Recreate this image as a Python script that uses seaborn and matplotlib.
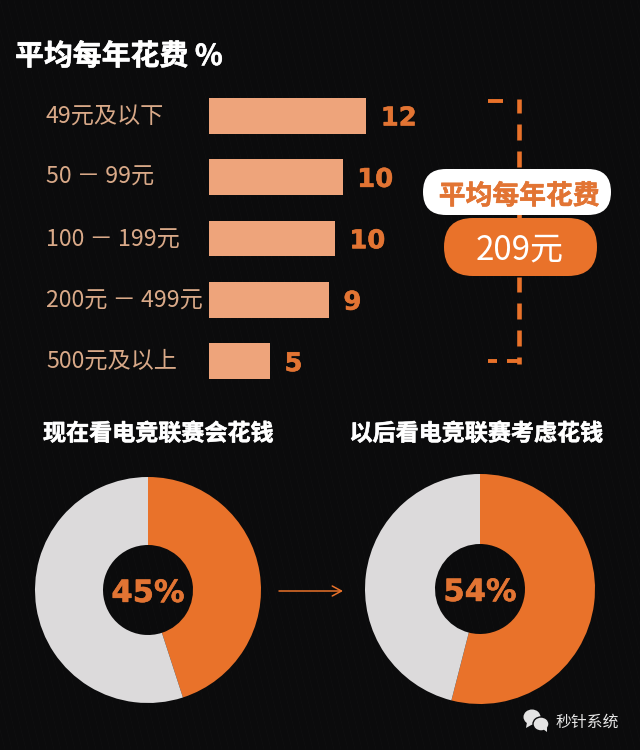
import numpy as np
import pandas as pd
import matplotlib
matplotlib.use("Agg")
import matplotlib.pyplot as plt
import matplotlib.patheffects as pe
import seaborn as sns
from matplotlib.patches import FancyBboxPatch, Ellipse, Polygon

# -----------------------------
# Data
# -----------------------------
title = "平均每年花费 %"
price_bands = ["49元及以下", "50 － 99元", "100 － 199元", "200元 － 499元", "500元及以上"]
bar_lengths = [12.0, 10.2, 9.6, 9.15, 4.65]
bar_labels = ["12", "10", "10", "9", "5"]
avg_label = "平均每年花费"
avg_value = "209元"
donut_titles = ["现在看电竞联赛会花钱", "以后看电竞联赛考虑花钱"]
donut_shares = [45, 54]
brand = "秒针系统"

# -----------------------------
# Style
# -----------------------------
BG = "#0b0b0c"
ORANGE = "#e9722a"
TEXT_ORANGE = "#e27433"
PEACH = "#eea47b"
LABEL = "#d9a988"
GREY = "#dcdadb"
W, H = 640, 750

sns.set_theme(style="dark")
plt.rcParams["font.family"] = ["Noto Sans CJK SC", "DejaVu Sans"]
plt.rcParams["axes.unicode_minus"] = False

fig = plt.figure(figsize=(W / 100, H / 100), dpi=100, facecolor=BG)

# overlay in pixel coordinates for text and decoration
bg = fig.add_axes([0, 0, 1, 1], zorder=0)
bg.set_xlim(0, W)
bg.set_ylim(H, 0)
bg.axis("off")

# faint diagonal texture of the background
for x0 in range(-100, 900, 7):
    bg.plot([x0, x0 - 180], [750, 0], color="#ffffff", lw=0.5, alpha=0.02, zorder=0)

heavy = [pe.withStroke(linewidth=0.4, foreground=TEXT_ORANGE)]
white_heavy = [pe.withStroke(linewidth=0.4, foreground="white")]

# -----------------------------
# Bars
# -----------------------------
def axes_px(x0, y0, x1, y1, zorder=2):
    return fig.add_axes([x0 / W, 1 - y1 / H, (x1 - x0) / W, (y1 - y0) / H], zorder=zorder)

ax = axes_px(209, 85, 209 + 13.1 * 14, 392)
df = pd.DataFrame({"band": price_bands, "value": bar_lengths})
sns.barplot(data=df, y="band", x="value", color=PEACH, saturation=1, width=0.58,
            linewidth=0, edgecolor="none", ax=ax)
ax.set_xlim(0, 14)
ax.axis("off")
for p, lab in zip(ax.patches, bar_labels):
    ax.annotate(lab, (p.get_width(), p.get_y() + p.get_height() / 2), xytext=(10.5, -2),
                textcoords="offset points", va="center", ha="left", color=TEXT_ORANGE,
                fontsize=18.6, fontweight="bold", family="DejaVu Sans", annotation_clip=False,
                path_effects=heavy)

band_y = [116, 177, 240, 301, 361]
for y, band in zip(band_y, price_bands):
    bg.text(46, y, band, color=LABEL, fontsize=16.7, va="center", ha="left", zorder=3)

bg.text(15, 56, title, color="white", fontsize=20.8, fontweight="bold", va="center", ha="left",
        zorder=3, path_effects=white_heavy)

# -----------------------------
# Dashed bracket and pills
# -----------------------------
for y0, y1 in [(99, 113), (124, 140), (151, 167), (178, 230), (277, 292), (303, 319), (330, 346), (357, 364)]:
    bg.plot([518.5, 518.5], [y0, y1], color=ORANGE, lw=3.3, solid_capstyle="butt", zorder=1)
for x0, x1 in [(488, 503), (488, 497), (507, 521)]:
    y = 101 if x0 == 488 and x1 == 503 else 361
    bg.plot([x0, x1], [y, y], color=ORANGE, lw=2.8, solid_capstyle="butt", zorder=1)

white_pill = FancyBboxPatch((423, 169), 188, 46, boxstyle="round,pad=0,rounding_size=23",
                            fc="white", ec="none", zorder=3)
orange_pill = FancyBboxPatch((444, 218), 153, 58, boxstyle="round,pad=0,rounding_size=29",
                             fc=ORANGE, ec="none", zorder=3)
bg.add_patch(white_pill)
bg.add_patch(orange_pill)
bg.text(519, 196, avg_label, color=TEXT_ORANGE, fontsize=19.3, fontweight="bold", ha="center", va="center",
        zorder=4, path_effects=heavy)
bg.text(520, 250, avg_value, color="white", fontsize=23.8, ha="center", va="center", zorder=4)

# -----------------------------
# Donuts
# -----------------------------
centers = [(148, 590), (480, 589)]
radii = [113, 115]
for (cx, cy), r, share in zip(centers, radii, donut_shares):
    dax = axes_px(cx - r, cy - r, cx + r, cy + r)
    dax.pie([share, 100 - share], colors=[ORANGE, GREY], startangle=90, counterclock=False,
            radius=1, wedgeprops=dict(width=1 - 45 / r, linewidth=0))
    dax.set_xlim(-1, 1)
    dax.set_ylim(-1, 1)
    dax.text(0, -0.03, f"{share}%", color=TEXT_ORANGE, fontsize=22, fontweight="bold",
             family="DejaVu Sans", ha="center", va="center", path_effects=heavy)

bg.text(158, 434, donut_titles[0], color="white", fontsize=16.6, fontweight="bold", ha="center", va="center",
        zorder=3, path_effects=white_heavy)
bg.text(476, 434, donut_titles[1], color="white", fontsize=16.6, fontweight="bold", ha="center", va="center",
        zorder=3, path_effects=white_heavy)

bg.annotate("", xy=(343, 591), xytext=(279, 591),
            arrowprops=dict(arrowstyle="->,head_length=0.55,head_width=0.3", color=ORANGE, lw=1.1,
                            shrinkA=0, shrinkB=0), zorder=3)

# -----------------------------
# Brand mark
# -----------------------------
bg.add_patch(Ellipse((532, 717), 17, 15, fc="#e4e3e3", ec="none", zorder=3))
bg.add_patch(Polygon([[527, 722], [526, 728], [533, 724]], fc="#e4e3e3", ec="none", zorder=3))
bg.add_patch(Ellipse((541, 724), 16, 14, fc="#e4e3e3", ec=BG, lw=1, zorder=4))
bg.add_patch(Polygon([[543, 729], [547, 732], [547, 727]], fc="#e4e3e3", ec="none", zorder=4))
bg.text(587.5, 722, brand, color="#e6e6e6", fontsize=11.4, ha="center", va="center", zorder=3)

fig.savefig("out.png", dpi=100, facecolor=BG)
